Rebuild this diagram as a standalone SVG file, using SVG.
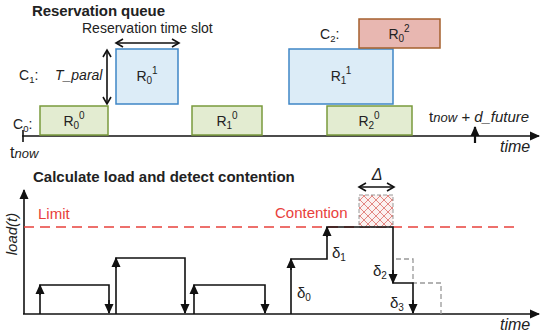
<svg xmlns="http://www.w3.org/2000/svg" width="544" height="336" viewBox="0 0 544 336">
<style>
text{font-family:"Liberation Sans","Open Sans",sans-serif;fill:#222}
.title{font-weight:bold;font-size:15px}
.lbl{font-size:14px}
.it{font-style:italic}
.red{fill:#e8413c}
.green{fill:#e3ecd1;stroke:#7a9a3c;stroke-width:1.5}
.blue{fill:#dcecf7;stroke:#3f86c6;stroke-width:1.5}
.pink{fill:#e8b7b1;stroke:#a5602e;stroke-width:1.5}
.ln{stroke:#111;stroke-width:1.6;fill:none}
.gd{stroke:#999;stroke-width:1.3;fill:none;stroke-dasharray:5,3}
.lim{stroke:#e8413c;stroke-width:1.5;fill:none;stroke-dasharray:10,6}
</style>
<defs>
<marker id="ah" markerWidth="10" markerHeight="10" refX="9" refY="5" orient="auto-start-reverse" markerUnits="userSpaceOnUse">
<path d="M0,0.5 L10,5 L0,9.5 z" fill="#111"/>
</marker>
<marker id="ao" markerWidth="10" markerHeight="10" refX="8" refY="5" orient="auto-start-reverse" markerUnits="userSpaceOnUse">
<path d="M1,1 L8,5 L1,9" fill="none" stroke="#111" stroke-width="1.6"/>
</marker>
<pattern id="hatch" width="8" height="8" patternUnits="userSpaceOnUse">
<rect width="8" height="8" fill="#fbf1f0"/>
<path d="M0,0 L8,8 M8,0 L0,8" stroke="#e07a76" stroke-width="0.9"/>
</pattern>
</defs>

<text class="title" x="32" y="16" textLength="133">Reservation queue</text>
<text class="lbl" x="82" y="33">Reservation time slot</text>

<g id="connectors">
<line class="ln" x1="116" y1="43" x2="179" y2="43" marker-start="url(#ao)" marker-end="url(#ao)"/>
<line class="ln" x1="107" y1="50" x2="107" y2="104" marker-start="url(#ao)" marker-end="url(#ao)"/>
<line class="ln" x1="22" y1="136" x2="539" y2="136" marker-end="url(#ah)"/>
<line class="ln" x1="23" y1="130" x2="23" y2="142"/>
<line x1="475" y1="143" x2="475" y2="127" stroke="#111" stroke-width="2.2" marker-end="url(#ah)"/>
</g>

<text class="lbl" x="19" y="80">C<tspan font-size="9.5" dy="3">1</tspan><tspan dy="-3">:</tspan></text>
<text class="lbl it" x="55" y="80">T_paral</text>
<text class="lbl" x="13" y="129">C<tspan font-size="9.5" dy="3">0</tspan><tspan dy="-3">:</tspan></text>
<text class="lbl" x="320" y="39">C<tspan font-size="9.5" dy="3">2</tspan><tspan dy="-3">:</tspan></text>

<g id="R00"><rect class="green" x="40" y="106" width="68" height="29"/><text class="lbl" x="74" y="126" text-anchor="middle">R<tspan font-size="10" dy="3">0</tspan><tspan font-size="10" dy="-10">0</tspan></text></g>
<g id="R10"><rect class="green" x="192" y="106" width="70" height="29"/><text class="lbl" x="227" y="126" text-anchor="middle">R<tspan font-size="10" dy="3">1</tspan><tspan font-size="10" dy="-10">0</tspan></text></g>
<g id="R20"><rect class="green" x="327" y="106" width="85" height="29"/><text class="lbl" x="369" y="126" text-anchor="middle">R<tspan font-size="10" dy="3">2</tspan><tspan font-size="10" dy="-10">0</tspan></text></g>
<g id="R01"><rect class="blue" x="116" y="49" width="62" height="55"/><text class="lbl" x="147" y="81" text-anchor="middle">R<tspan font-size="10" dy="3">0</tspan><tspan font-size="10" dy="-10">1</tspan></text></g>
<g id="R11"><rect class="blue" x="289" y="49" width="104" height="55"/><text class="lbl" x="341" y="81" text-anchor="middle">R<tspan font-size="10" dy="3">1</tspan><tspan font-size="10" dy="-10">1</tspan></text></g>
<g id="R02"><rect class="pink" x="359" y="19" width="81" height="29"/><text class="lbl" x="399" y="39" text-anchor="middle">R<tspan font-size="10" dy="3">0</tspan><tspan font-size="10" dy="-10">2</tspan></text></g>

<text class="lbl" x="10" y="158" style="font-size:16px">t<tspan class="it" font-size="13">now</tspan></text>
<text class="lbl it" x="429" y="122" style="font-size:15px"><tspan font-style="normal">t</tspan><tspan font-size="13">now</tspan> + d_future</text>
<text class="lbl it" x="500" y="152" style="font-size:16px">time</text>

<text class="title" x="33" y="182">Calculate load and detect contention</text>

<g id="load-connectors">
<line class="ln" x1="24" y1="314" x2="24" y2="190" marker-end="url(#ah)"/>
<line class="ln" x1="23" y1="314" x2="539" y2="314" marker-end="url(#ah)"/>
<line class="lim" x1="24" y1="227" x2="520" y2="227"/>
<rect x="359" y="195" width="34" height="32" fill="url(#hatch)" stroke="#999" stroke-width="1" stroke-dasharray="4,2"/>
<line class="ln" x1="359" y1="187" x2="394" y2="187" marker-start="url(#ao)" marker-end="url(#ao)"/>
<polyline class="ln" points="40,314 40,285 109,285 109,313"/>
<line class="ln" x1="40" y1="295" x2="40" y2="285" marker-end="url(#ah)"/>
<line class="ln" x1="109" y1="300" x2="109" y2="313" marker-end="url(#ah)"/>
<polyline class="ln" points="116,314 116,258 185,258 185,313"/>
<line class="ln" x1="116" y1="268" x2="116" y2="258" marker-end="url(#ah)"/>
<line class="ln" x1="185" y1="300" x2="185" y2="313" marker-end="url(#ah)"/>
<polyline class="ln" points="194,314 194,285 265,285 265,313"/>
<line class="ln" x1="194" y1="295" x2="194" y2="285" marker-end="url(#ah)"/>
<line class="ln" x1="265" y1="300" x2="265" y2="313" marker-end="url(#ah)"/>
<polyline class="gd" points="396,259 413,259 413,283 441,283 441,314"/>
<polyline class="ln" points="291,314 291,259 327,259 327,227 393,227 393,283 413,283 413,313"/>
<line class="ln" x1="291" y1="270" x2="291" y2="259" marker-end="url(#ah)"/>
<line class="ln" x1="327" y1="237" x2="327" y2="227" marker-end="url(#ah)"/>
<line class="ln" x1="393" y1="270" x2="393" y2="283" marker-end="url(#ah)"/>
<line class="ln" x1="413" y1="300" x2="413" y2="313" marker-end="url(#ah)"/>
</g>

<text class="lbl red" x="38" y="219" style="font-size:15px">Limit</text>
<text class="lbl red" x="275" y="218" style="font-size:15px">Contention</text>
<text class="lbl it" x="377" y="180" text-anchor="middle" style="font-size:16px">Δ</text>
<text class="lbl it" x="17" y="234" text-anchor="middle" transform="rotate(-90 17 234)" style="font-size:15px">load(t)</text>
<text class="lbl" x="297" y="298" style="font-size:15px">δ<tspan font-size="10" dy="3">0</tspan></text>
<text class="lbl" x="332" y="258" style="font-size:15px">δ<tspan font-size="10" dy="3">1</tspan></text>
<text class="lbl" x="373" y="276" style="font-size:15px">δ<tspan font-size="10" dy="3">2</tspan></text>
<text class="lbl" x="390" y="308" style="font-size:15px">δ<tspan font-size="10" dy="3">3</tspan></text>
<text class="lbl it" x="500" y="330" style="font-size:16px">time</text>
</svg>
